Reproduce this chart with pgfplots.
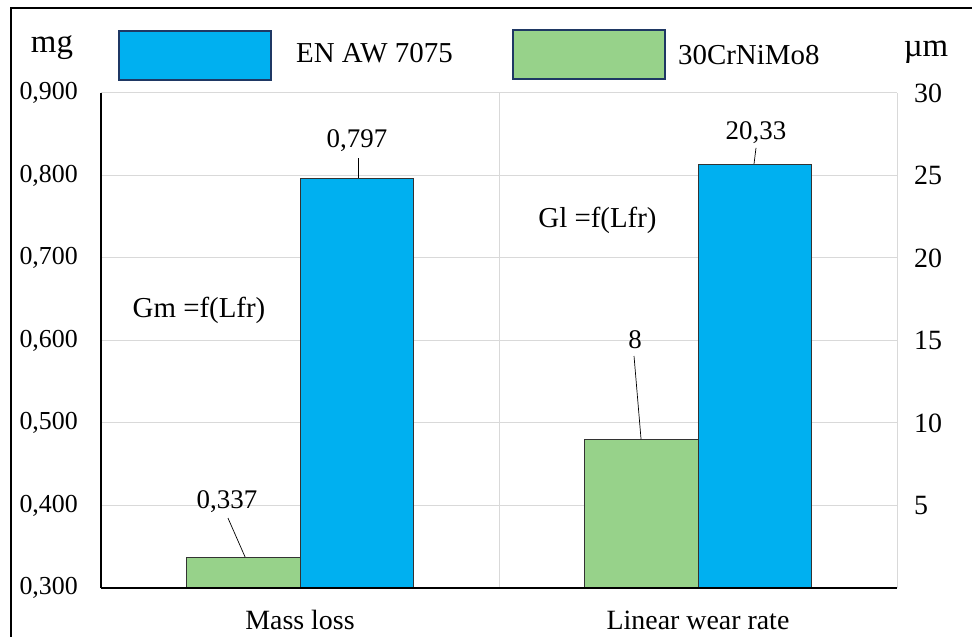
\documentclass[border=0pt]{standalone}
\usepackage{pgfplots}
\pgfplotsset{compat=1.18}
\usepackage{fontspec}
\setmainfont{Liberation Serif}
\definecolor{barblue}{HTML}{00B0F0}
\definecolor{bargreen}{HTML}{97D28A}
\definecolor{legedge}{HTML}{1F3864}
\definecolor{gridgray}{HTML}{D9D9D9}
\begin{document}
\begin{tikzpicture}[x=1bp,y=1bp]
\useasboundingbox (0,0) rectangle (972,637);
\draw[black, line width=2bp] (11,-5) -- (11,629) -- (980,629);
% legend
\draw[legedge, line width=2bp, fill=barblue] (119,557) rectangle (271,606);
\node[anchor=base west, inner sep=0pt, font=\fontsize{29}{34}\selectfont] at (296,574) {EN AW 7075};
\draw[legedge, line width=2bp, fill=bargreen] (513,558) rectangle (665,607);
\node[anchor=base west, inner sep=0pt, font=\fontsize{29}{34}\selectfont] at (678,572) {30CrNiMo8};
\node[anchor=base, inner sep=0pt, font=\fontsize{33}{38}\selectfont] at (52,584) {mg};
\node[anchor=base, inner sep=0pt, font=\fontsize{33}{38}\selectfont] at (926,580) {µm};
% main axis
\begin{axis}[name=main, at={(101bp,49bp)}, anchor=south west, scale only axis,
  width=796bp, height=495bp,
  xmin=-0.5, xmax=1.5, ymin=0.3, ymax=0.9,
  /pgf/number format/assume math mode=true,
  ytick={0.3,0.4,0.5,0.6,0.7,0.8,0.9},
  yticklabel style={/pgf/number format/fixed, /pgf/number format/fixed zerofill,
    /pgf/number format/precision=3, /pgf/number format/use comma,
    font=\fontsize{26}{30}\selectfont, anchor=east, inner sep=0pt, xshift=-23bp},
  xtick={0,1}, xticklabels={Mass loss, Linear wear rate},
  xticklabel style={font=\fontsize{28}{32}\selectfont, anchor=base, inner sep=0pt, yshift=-42bp},
  major tick length=0,
  axis line style={draw=none},
  ymajorgrids, grid style={gridgray, line width=1bp},
]
\draw[gridgray, line width=1bp] (axis cs:0.5,0.3) -- (axis cs:0.5,0.9);
\addplot[ybar, bar width=0.285, bar shift=0pt, fill=bargreen, draw=black!80, line width=0.8bp] coordinates {(-0.1425,0.337)};
\addplot[ybar, bar width=0.285, bar shift=0pt, fill=barblue, draw=black!80, line width=0.8bp] coordinates {(0.1425,0.797)};
\node[font=\fontsize{27}{31}\selectfont, inner sep=0pt] at (axis cs:0.1432,0.8418) {0,797};
\draw[black, line width=0.7bp] (axis cs:0.1457,0.8212) -- (axis cs:0.1457,0.797);
\node[font=\fontsize{27}{31}\selectfont, inner sep=0pt] at (axis cs:-0.1834,0.4042) {0,337};
\draw[black, line width=0.7bp] (axis cs:-0.181,0.3848) -- (axis cs:-0.138,0.3376);
\end{axis}
% secondary axis
\begin{axis}[at={(101bp,49bp)}, anchor=south west, scale only axis,
  width=796bp, height=495bp,
  xmin=-0.5, xmax=1.5, ymin=0, ymax=30,
  /pgf/number format/assume math mode=true,
  axis y line*=right, hide x axis,
  axis line style={draw=none},
  ytick={5,10,15,20,25,30},
  yticklabel style={font=\fontsize{28}{32}\selectfont, anchor=west, inner sep=0pt, xshift=17bp},
  major tick length=0,
]
\addplot[ybar, bar width=0.285, bar shift=0pt, fill=bargreen, draw=black!80, line width=0.8bp] coordinates {(0.8575,9.03)};
\addplot[ybar, bar width=0.285, bar shift=0pt, fill=barblue, draw=black!80, line width=0.8bp] coordinates {(1.1425,25.7)};
\node[font=\fontsize{27}{31}\selectfont, inner sep=0pt] at (axis cs:0.8417,15.03) {8};
\draw[black, line width=0.7bp] (axis cs:0.8392,14.06) -- (axis cs:0.8568,9.03);
\node[font=\fontsize{27}{31}\selectfont, inner sep=0pt] at (axis cs:1.1457,27.58) {20,33};
\draw[black, line width=0.7bp] (axis cs:1.1457,26.67) -- (axis cs:1.1407,25.7);
\end{axis}
\draw[gridgray, line width=1bp] (main.south east) -- (main.north east);
\draw[black, line width=2bp] (main.south west) -- (main.north west);
\draw[black, line width=2.5bp] (main.south west) -- (main.south east);
\node[font=\fontsize{29}{34}\selectfont, inner sep=0pt] at (199,327) {Gm =f(Lfr)};
\node[font=\fontsize{29}{34}\selectfont, inner sep=0pt] at (597.5,417) {Gl =f(Lfr)};
\end{tikzpicture}
\end{document}
